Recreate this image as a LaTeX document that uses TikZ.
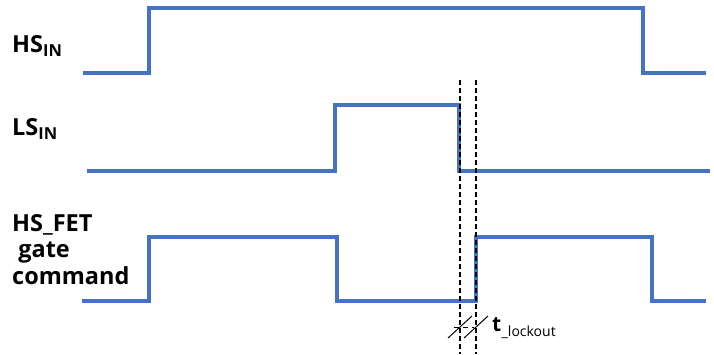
\documentclass[tikz,border=0pt]{standalone}
\usepackage{fontspec}
\setmainfont{Open Sans}
\definecolor{sig}{HTML}{4472C4}
\begin{document}
\begin{tikzpicture}[x=1pt,y=-1pt,
  wave/.style={draw=sig,line width=3.2pt,line join=miter},
  guide/.style={draw=black,line width=1.3pt,dash pattern=on 5pt off 3pt},
  lbl/.style={anchor=base west,inner sep=0pt,font=\fontsize{23.5}{25}\selectfont\bfseries}]
\useasboundingbox (0,0) rectangle (714,354);
% labels
\node[lbl] (hsin) at (12,52) {HS\raisebox{-4pt}{\fontsize{16.5}{17}\selectfont IN}};
\node[lbl] (lsin) at (12,135) {LS\raisebox{-4pt}{\fontsize{16.5}{17}\selectfont IN}};
\node[lbl] (hsfet) at (12,231) {HS\_FET};
\node[lbl] (gate) at (12,257) {\ gate};
\node[lbl] (cmd) at (12,284) {command};
% waveforms
\draw[wave] (83,73) -- (149,73) -- (149,8) -- (643,8) -- (643,73) -- (706,73);
\draw[wave] (87,171) -- (335,171) -- (335,105) -- (459,105) -- (459,171) -- (710,171);
\draw[wave] (82,301) -- (149,301) -- (149,237) -- (337,237) -- (337,301) -- (476,301) -- (476,237) -- (652,237) -- (652,301) -- (706,301);
% guides
\coordinate (g1t) at (460,80); \coordinate (g1b) at (460,354);
\coordinate (g2t) at (476,80); \coordinate (g2b) at (476,354);
\draw[guide] (g1t) -- (g1b);
\draw[guide] (g2t) -- (g2b);
\coordinate (s1a) at (448,338); \coordinate (s1b) at (472,316);
\coordinate (s2a) at (464,338); \coordinate (s2b) at (488,316);
\draw[line width=1pt] (s1a) -- (s1b);
\draw[line width=1pt] (s2a) -- (s2b);
\coordinate (hl) at (454,327); \coordinate (hr) at (474,327);
\draw[line width=1pt,dash pattern=on 5pt off 4pt] (hl) -- (hr);
\node[anchor=base west,inner sep=0pt,font=\fontsize{21}{21}\selectfont\bfseries] (t) at (492,331) {t};
\node[anchor=base west,inner sep=0pt,font=\fontsize{14}{14}\selectfont] (lo) at ([yshift=-5pt]t.base east) {\_lockout};
\end{tikzpicture}
\end{document}
